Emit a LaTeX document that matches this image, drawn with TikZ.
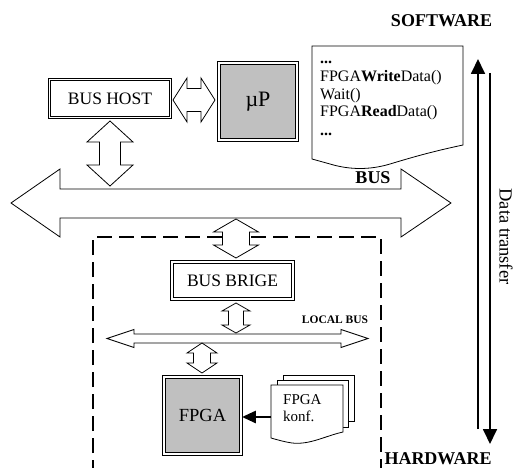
\documentclass[tikz,border=0pt]{standalone}
\usepackage{fontspec}
\setmainfont{Liberation Serif}
\usetikzlibrary{arrows.meta}
\definecolor{boxgray}{HTML}{C0C0C0}
\newcommand{\myvarrow}[6]{% x, ytop, ybot, headhalf, shafthalf, headlen
  \draw[blockarrow] (#1,#2) -- ({#1+#4},{#2+#6}) -- ({#1+#5},{#2+#6}) -- ({#1+#5},{#3-#6}) -- ({#1+#4},{#3-#6}) -- (#1,#3) -- ({#1-#4},{#3-#6}) -- ({#1-#5},{#3-#6}) -- ({#1-#5},{#2+#6}) -- ({#1-#4},{#2+#6}) -- cycle;}
\newcommand{\myharrow}[6]{% y, xleft, xright, headhalf, shafthalf, headlen
  \draw[blockarrow] (#2,#1) -- ({#2+#6},{#1-#4}) -- ({#2+#6},{#1-#5}) -- ({#3-#6},{#1-#5}) -- ({#3-#6},{#1-#4}) -- (#3,#1) -- ({#3-#6},{#1+#4}) -- ({#3-#6},{#1+#5}) -- ({#2+#6},{#1+#5}) -- ({#2+#6},{#1+#4}) -- cycle;}
\tikzset{
  blockarrow/.style={draw=black, fill=white, line width=0.8pt, line join=miter},
  framebox/.style={draw=black, double=white, double distance=1.5pt, line width=0.9pt, fill=white, inner sep=0pt, font=\fontsize{17.5}{20}\selectfont},
  chipbox/.style={draw=black, double=white, double distance=1.1pt, line width=1.9pt, fill=boxgray, inner sep=0pt},
  doctext/.style={anchor=base west, inner sep=0pt, font=\fontsize{16}{18}\selectfont},
  konftext/.style={anchor=base west, inner sep=0pt, font=\fontsize{15}{17}\selectfont},
  bigbold/.style={anchor=base, inner sep=0pt, font=\fontsize{18}{20}\selectfont\bfseries},
  flowarrow/.style={line width=1.8pt, -{Triangle[width=14pt,length=15pt]}},
  docshape/.style={draw=black, fill=white, line width=0.8pt},
}
\begin{document}
\begin{tikzpicture}[x=1pt,y=-1pt]
\useasboundingbox (0,0) rectangle (517,468);

% dashed local area
\draw[line width=1.8pt, dash pattern=on 15pt off 7pt] (93,475) -- (93,237) -- (381,237) -- (381,475);

% main bus
\draw[blockarrow] (11,203) -- (60,169) -- (60,189) -- (401,189) -- (401,169) -- (451,203) -- (401,237) -- (401,218) -- (60,218) -- (60,237) -- cycle;
\node[bigbold] (buslabel) at (373,184) {BUS};

% local bus
\myharrow{338.5}{107}{368}{9}{4.5}{27}
\node[anchor=base, inner sep=0pt, font=\fontsize{11.5}{13}\selectfont\bfseries] (localbus) at (335,323) {LOCAL BUS};

% boxes
\node[framebox, minimum width=121pt, minimum height=38pt] (bushost) at (110,98.5) {BUS HOST};
\node[chipbox, minimum width=78pt, minimum height=77pt, font=\fontsize{22}{24}\selectfont] (up) at (258,101.5) {µP};
\node[framebox, minimum width=121pt, minimum height=37pt] (busbrige) at (232.5,280.5) {BUS BRIGE};
\node[chipbox, minimum width=77pt, minimum height=77pt, font=\fontsize{18.5}{20}\selectfont] (fpga) at (202.5,415.5) {FPGA};

% block arrows between boxes
\myharrow{100}{173}{215}{22}{11.5}{14}
\myvarrow{110}{121}{186}{23}{10.5}{21}
\myvarrow{236}{219}{258}{22.5}{13.5}{13}
\myvarrow{236}{303}{333}{14}{7.5}{8}
\myvarrow{202}{343}{373}{15}{8.5}{10}

% software document
\draw[docshape] (312,46) -- (463,46) -- (463,145) .. controls (430,152) and (410,158) .. (390,164)
  .. controls (370,170) and (350,170) .. (330,164) -- (312,159) -- cycle;
\node[doctext, font=\fontsize{16}{18}\selectfont\bfseries] (dots1) at (320,64) {...};
\node[doctext] (write) at (320,82) {FPGA\textbf{Write}Data()};
\node[doctext] (wait) at (320,99.5) {Wait()};
\node[doctext] (read) at (320,117) {FPGA\textbf{Read}Data()};
\node[doctext, font=\fontsize{16}{18}\selectfont\bfseries] (dots2) at (320,135.5) {...};

% FPGA configuration documents
\draw[docshape] (283,375) rectangle (354,421);
\draw[docshape] (277,380) rectangle (348,427);
\draw[docshape] (271,385) -- (343,385) -- (343,432) .. controls (325,436) and (310,445) .. (292,443)
  .. controls (285,442) and (278,440) .. (271,438) -- cycle;
\coordinate (konfleft) at (271,417);
\node[konftext] (konf1) at (283,404) {FPGA};
\node[konftext] (konf2) at (283,421) {konf.};
\draw[line width=2.8pt, -{Triangle[width=12pt,length=14pt]}] (konfleft) -- (fpga.east |- konfleft);

% software / hardware data transfer
\node[bigbold] (software) at (441.5,27) {SOFTWARE};
\node[bigbold] (hardware) at (438,464.5) {HARDWARE};
\coordinate (upbot) at (478,429);
\coordinate (uptop) at (478,59);
\coordinate (downtop) at (490,73);
\coordinate (downbot) at (490,444);
\draw[flowarrow] (upbot) -- (uptop);
\draw[flowarrow] (downtop) -- (downbot);
\node[rotate=-90, inner sep=0pt, font=\fontsize{18.5}{20}\selectfont] (datatransfer) at (506,236.5) {Data transfer};
\end{tikzpicture}
\end{document}
